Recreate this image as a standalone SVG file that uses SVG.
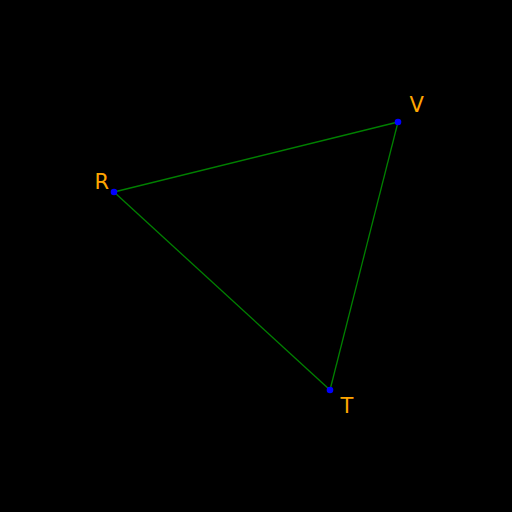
<svg xmlns="http://www.w3.org/2000/svg" width="512" height="512" viewBox="0 0 512 512">
<style>
.edge{stroke:#008000;stroke-width:1.3;fill:none}
.pt{fill:#0000ff}
.lbl{fill:#ffa500;font-family:"DejaVu Sans",sans-serif;font-size:21px}
</style>
<rect width="512" height="512" fill="#000"/>
<g id="connectors">
<line class="edge" x1="114" y1="192" x2="398" y2="122"/>
<line class="edge" x1="398" y1="122" x2="330" y2="390"/>
<line class="edge" x1="330" y1="390" x2="114" y2="192"/>
</g>
<g id="node-R"><circle class="pt" cx="114" cy="192" r="3.3"/><text class="lbl" x="94.5" y="188.5">R</text></g>
<g id="node-V"><circle class="pt" cx="398" cy="122" r="3.3"/><text class="lbl" x="409.5" y="111.5">V</text></g>
<g id="node-T"><circle class="pt" cx="330" cy="390" r="3.3"/><text class="lbl" x="340.5" y="413">T</text></g>
</svg>
